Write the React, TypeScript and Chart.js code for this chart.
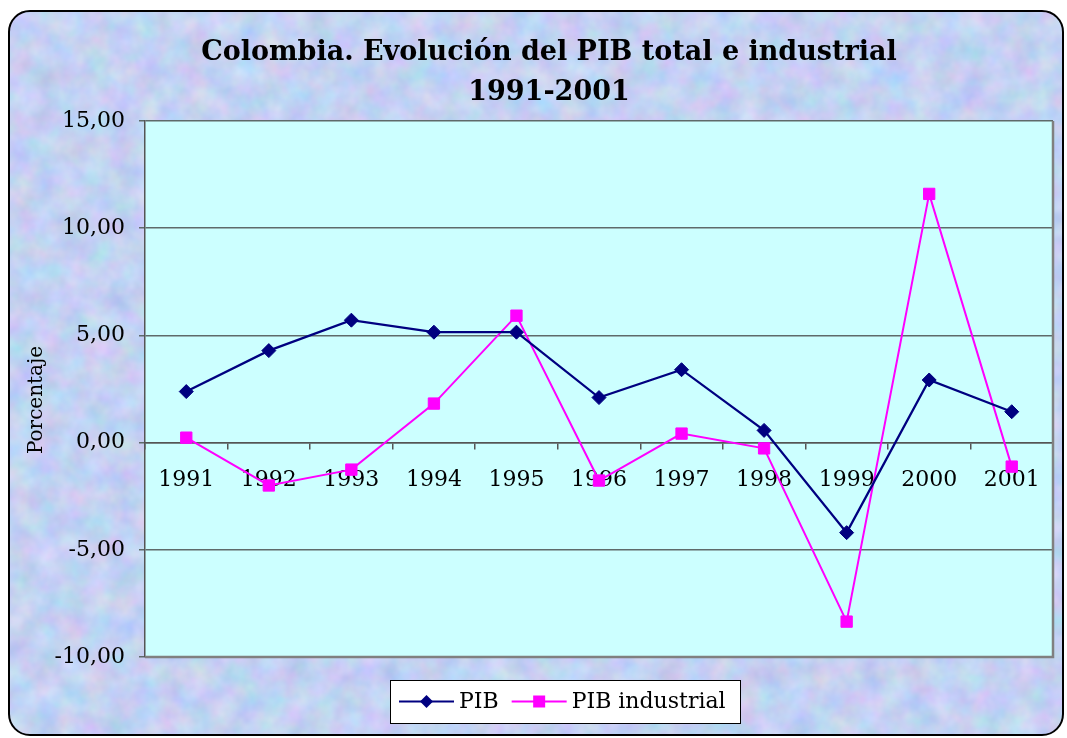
import React, { useEffect, useRef } from "react";
import { Chart, registerables } from "chart.js";

Chart.register(...registerables);

const years = ["1991", "1992", "1993", "1994", "1995", "1996", "1997", "1998", "1999", "2000", "2001"];
const pib = [2.38, 4.29, 5.71, 5.15, 5.15, 2.1, 3.4, 0.57, -4.2, 2.92, 1.44];
const pibIndustrial = [0.23, -2.0, -1.26, 1.82, 5.92, -1.77, 0.42, -0.27, -8.35, 11.6, -1.12];
const titleLines = ["Colombia. Evolución del PIB total e industrial", "1991-2001"];
const yTitle = "Porcentaje";
const yMin = -10;
const yMax = 15;
const yStep = 5;

const SERIF = "'DejaVu Serif', serif";

const noiseSvg =
  "data:image/svg+xml;utf8," +
  encodeURIComponent(
    `<svg xmlns='http://www.w3.org/2000/svg' width='1060' height='730'><filter id='f' x='0' y='0' width='100%' height='100%' color-interpolation-filters='sRGB'><feTurbulence type='fractalNoise' baseFrequency='0.04' numOctaves='3' seed='7'/><feColorMatrix type='matrix' values='0.25 0 0 0 0.64  0 0.18 0 0 0.73  0 0 0.12 0 0.89  0 0 0 0 1'/></filter><rect width='100%' height='100%' filter='url(#f)'/></svg>`
  );

export default function App() {
  const ref = useRef<HTMLCanvasElement | null>(null);

  useEffect(() => {
    if (!ref.current) return;
    const decor = {
      id: "decor",
      beforeDraw(chart: any) {
        const { ctx, chartArea: a } = chart;
        ctx.save();
        ctx.fillStyle = "#CCFFFF";
        ctx.fillRect(a.left, a.top, a.right - a.left, a.bottom - a.top);
        ctx.restore();
      },
      afterDatasetsDraw(chart: any) {
        const { ctx, chartArea: a } = chart;
        ctx.save();
        ctx.strokeStyle = "#808080";
        ctx.lineWidth = 2.5;
        ctx.beginPath();
        ctx.moveTo(a.right, a.top);
        ctx.lineTo(a.right, a.bottom);
        ctx.lineTo(a.left, a.bottom);
        ctx.stroke();
        ctx.restore();
      },
      afterDraw(chart: any) {
        const { ctx } = chart;
        ctx.save();
        // title
        ctx.fillStyle = "#000";
        ctx.textAlign = "center";
        ctx.textBaseline = "middle";
        ctx.font = `bold 27px ${SERIF}`;
        ctx.fillText(titleLines[0], 539, 41);
        ctx.fillText(titleLines[1], 539, 81);
        // y title
        ctx.font = `20px ${SERIF}`;
        ctx.translate(27, 388);
        ctx.rotate(-Math.PI / 2);
        ctx.fillText(yTitle, 0, 0);
        ctx.setTransform(1, 0, 0, 1, 0, 0);
        // legend
        const bx = 380, by = 668, bw = 350, bh = 43;
        ctx.fillStyle = "#fff";
        ctx.fillRect(bx, by, bw, bh);
        ctx.strokeStyle = "#000";
        ctx.lineWidth = 1;
        ctx.strokeRect(bx + 0.5, by + 0.5, bw, bh);
        const cy = by + bh / 2;
        ctx.font = `22px ${SERIF}`;
        ctx.textAlign = "left";
        ctx.textBaseline = "middle";
        const items = chart.data.datasets;
        let x = bx + 9;
        items.forEach((ds: any) => {
          ctx.strokeStyle = ds.borderColor;
          ctx.lineWidth = 2;
          ctx.beginPath();
          ctx.moveTo(x, cy);
          ctx.lineTo(x + 55, cy);
          ctx.stroke();
          ctx.fillStyle = ds.pointBackgroundColor;
          const mx = x + 27.5;
          ctx.beginPath();
          if (ds.pointStyle === "rectRot") {
            ctx.moveTo(mx, cy - 6.5);
            ctx.lineTo(mx + 6.5, cy);
            ctx.lineTo(mx, cy + 6.5);
            ctx.lineTo(mx - 6.5, cy);
            ctx.closePath();
          } else {
            ctx.rect(mx - 6, cy - 6, 12, 12);
          }
          ctx.fill();
          ctx.fillStyle = "#000";
          ctx.fillText(ds.label, x + 60, cy + 1);
          x += 60 + ctx.measureText(ds.label).width + 13;
        });
        ctx.restore();
      },
    };

    const chart = new Chart(ref.current, {
      type: "line",
      data: {
        labels: years,
        datasets: [
          {
            label: "PIB",
            data: pib,
            borderColor: "#000080",
            backgroundColor: "#000080",
            pointBackgroundColor: "#000080",
            pointBorderColor: "#000080",
            pointStyle: "rectRot",
            pointRadius: 7,
            pointBorderWidth: 1,
            borderWidth: 2.25,
            tension: 0,
          },
          {
            label: "PIB industrial",
            data: pibIndustrial,
            borderColor: "#FF00FF",
            backgroundColor: "#FF00FF",
            pointBackgroundColor: "#FF00FF",
            pointBorderColor: "#FF00FF",
            pointStyle: "rect",
            pointRadius: 8,
            pointBorderWidth: 1,
            borderWidth: 2,
            tension: 0,
          },
        ],
      },
      options: {
        responsive: false,
        animation: false,
        layout: { padding: { top: 109, bottom: 77, left: 0, right: 9 } },
        plugins: {
          legend: { display: false },
          title: { display: false },
          tooltip: { enabled: false },
        },
        scales: {
          x: {
            type: "category",
            position: { y: 0 } as any,
            offset: true,
            grid: {
              display: true,
              offset: true,
              drawOnChartArea: false,
              drawTicks: true,
              tickLength: 6,
              color: "#555",
              lineWidth: 1.5,
            },
            border: { display: true, color: "#555", width: 1.5 },
            ticks: {
              color: "#000",
              font: { family: SERIF, size: 22 },
              padding: 18,
              maxRotation: 0,
              autoSkip: false,
            },
          },
          y: {
            min: yMin,
            max: yMax,
            afterFit(scale: any) {
              scale.width = 135;
            },
            grid: {
              display: true,
              drawOnChartArea: true,
              drawTicks: true,
              tickLength: 6,
              color: "#5E6A6A",
              lineWidth: 1.5,
            },
            border: { display: true, color: "#555", width: 1.5 },
            ticks: {
              stepSize: yStep,
              color: "#000",
              font: { family: SERIF, size: 22 },
              padding: 14,
              callback: (v: any) => Number(v).toFixed(2).replace(".", ","),
            },
          },
        },
      },
      plugins: [decor],
    });
    return () => chart.destroy();
  }, []);

  return (
    <div
      style={{
        position: "absolute",
        left: 8,
        top: 10,
        width: 1056,
        height: 726,
        boxSizing: "border-box",
        border: "2px solid #000",
        borderRadius: 22,
        overflow: "hidden",
        backgroundColor: "#C3D2F5",
        backgroundImage: `url("${noiseSvg}")`,
        backgroundSize: "1060px 730px",
      }}
    >
      <canvas ref={ref} width={1052} height={722} style={{ display: "block", width: 1052, height: 722 }} />
    </div>
  );
}
